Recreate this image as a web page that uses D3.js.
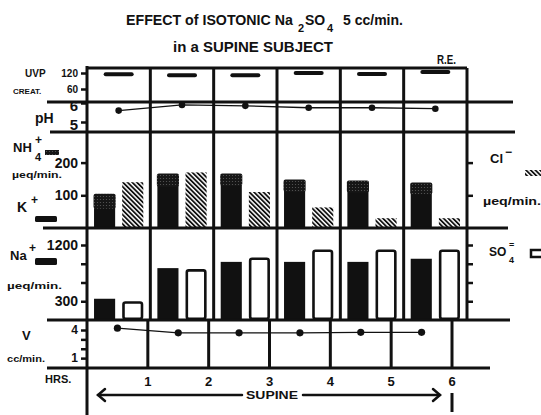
<!DOCTYPE html>
<html><head><meta charset="utf-8">
<script src="https://cdn.jsdelivr.net/npm/d3@7"></script>
<style>
body{margin:0;background:#fff}
text{font-family:"Liberation Sans",Arial,sans-serif;font-weight:bold;fill:#111}
</style>
</head><body><svg id="c" width="541" height="415"></svg>
<script>
// ---------- data ----------
const periods   = [1, 2, 3, 4, 5, 6];
const hourTicks = [1, 2, 3, 4, 5, 6];
const uvpCreat  = [115, 112, 112, 120, 116, 124];
const pH        = [5.6, 5.9, 5.85, 5.75, 5.75, 5.7];
const nh4       = [40, 35, 32, 32, 30, 30];
const kPlus     = [65, 132, 135, 116, 115, 109];
const chloride  = [140, 170, 110, 63, 30, 30];
const sodium    = [340, 830, 930, 930, 930, 980];
const sulfate   = [300, 815, 1000, 1130, 1130, 1130];
const volume    = [4.2, 3.7, 3.7, 3.7, 3.75, 3.75];
const uvpTicks  = [120, 60];
const pHTicks   = [6, 5];
const ionTicks  = [200, 100];
const naTicks   = [1200, 900, 600, 300];
const naLabels  = [1200, 300];
const vTicks    = [4, 3, 2, 1];
const vLabels   = [4, 1];

// ---------- layout ----------
const svg = d3.select('#c');
const X0 = 87, XR = 467, XH6 = 452;
const xP = d3.scaleBand().domain(periods).range([X0, XR]);
const xSub = d3.scaleBand().domain(['L', 'R']).range([0, xP.bandwidth()]).paddingInner(0.25).paddingOuter(0.25);
const xH = d3.scaleLinear().domain([0, 6]).range([X0, XH6]);
const yU  = d3.scaleLinear().domain([60, 120]).range([89, 73]);
const yPH = d3.scaleLinear().domain([5, 6]).range([122, 103]);
const yI  = d3.scaleLinear().domain([0, 200]).range([228, 162.6]);
const yN  = d3.scaleLinear().domain([0, 1200]).range([320, 245]);
const yV  = d3.scaleLinear().domain([0, 4]).range([367.5, 330]);
const INK = '#111';

const defs = svg.append('defs');
const hatch = defs.append('pattern').attr('id', 'hatch').attr('patternUnits', 'userSpaceOnUse')
  .attr('width', 3.3).attr('height', 3.3).attr('patternTransform', 'rotate(-45)');
hatch.append('rect').attr('width', 3.3).attr('height', 3.3).attr('fill', '#fff');
hatch.append('line').attr('x1', 0.9).attr('y1', 0).attr('x2', 0.9).attr('y2', 3.3).attr('stroke', INK).attr('stroke-width', 1.8);
const stip = defs.append('pattern').attr('id', 'stip').attr('patternUnits', 'userSpaceOnUse').attr('width', 3).attr('height', 3);
stip.append('rect').attr('width', 3).attr('height', 3).attr('fill', '#161616');
stip.append('circle').attr('cx', 1.5).attr('cy', 1.5).attr('r', 0.6).attr('fill', '#5a5a5a');

const cx = p => xP(p) + xP.bandwidth() / 2;

// ---------- bars: middle panel ----------
const gBars = svg.append('g');
gBars.selectAll('.k').data(periods).join('rect')
  .attr('x', (p, i) => xP(p) + xSub('L')).attr('width', xSub.bandwidth())
  .attr('y', (p, i) => yI(kPlus[i])).attr('height', (p, i) => yI(0) - yI(kPlus[i])).attr('fill', INK);
gBars.selectAll('.nh').data(periods).join('rect')
  .attr('x', (p, i) => xP(p) + xSub('L') - 0.5).attr('width', xSub.bandwidth() + 1)
  .attr('y', (p, i) => yI(kPlus[i] + nh4[i])).attr('height', (p, i) => yI(kPlus[i]) - yI(kPlus[i] + nh4[i]) + 2)
  .attr('rx', 2).attr('fill', 'url(#stip)');
gBars.selectAll('.cl').data(periods).join('rect')
  .attr('x', (p, i) => xP(p) + xSub('R')).attr('width', xSub.bandwidth())
  .attr('y', (p, i) => yI(chloride[i])).attr('height', (p, i) => yI(0) - yI(chloride[i])).attr('fill', 'url(#hatch)');

// ---------- bars: Na / SO4 panel ----------
gBars.selectAll('.na').data(periods).join('rect')
  .attr('x', (p, i) => xP(p) + xSub('L')).attr('width', xSub.bandwidth())
  .attr('y', (p, i) => yN(sodium[i])).attr('height', (p, i) => yN(0) - yN(sodium[i])).attr('fill', INK);
gBars.selectAll('.so').data(periods).join('rect')
  .attr('x', (p, i) => xP(p) + xSub('R') + 1.3).attr('width', xSub.bandwidth() - 2.6)
  .attr('y', (p, i) => yN(sulfate[i]) + 1.3).attr('height', (p, i) => yN(0) - yN(sulfate[i]) - 2.5)
  .attr('rx', 2).attr('fill', '#fff').attr('stroke', INK).attr('stroke-width', 2.6);

// ---------- UVP/creat dashes ----------
svg.append('g').selectAll('line').data(periods).join('line')
  .attr('x1', p => cx(p) - 13).attr('x2', p => cx(p) + 13)
  .attr('y1', (p, i) => yU(uvpCreat[i])).attr('y2', (p, i) => yU(uvpCreat[i]))
  .attr('stroke', INK).attr('stroke-width', 4).attr('stroke-linecap', 'round');

// ---------- frame lines ----------
const gL = svg.append('g').attr('stroke', INK).attr('stroke-width', 3).attr('fill', 'none');
const hl = (x1, x2, y) => gL.append('line').attr('x1', x1).attr('x2', x2).attr('y1', y).attr('y2', y);
const vl = (x, y1, y2) => gL.append('line').attr('x1', x).attr('x2', x).attr('y1', y1).attr('y2', y2);
hl(X0, XR, 68);
hl(47, 513, 102);
hl(50, 515, 132);
hl(43, 508, 228);
hl(47, 510, 320);
hl(47, 490, 368);
vl(X0, 66, 415);
periods.slice(1).forEach(p => vl(xP(p), 68, 320));
vl(XR, 68, 320);
hourTicks.forEach(h => vl(xH(h), 320, 368));
vl(xH(6), 393, 412);

// ---------- axes ----------
function leftAxis(scale, ticks, labelled, fs) {
  const g = svg.append('g').attr('transform', `translate(${X0},0)`)
    .call(d3.axisLeft(scale).tickValues(ticks).tickSize(6).tickPadding(3)
      .tickFormat(d => labelled.includes(d) ? d : ''));
  g.select('.domain').remove();
  g.selectAll('.tick line').attr('stroke', INK).attr('stroke-width', 2.5);
  g.selectAll('.tick text').attr('font-size', fs).attr('fill', INK);
  return g;
}
function rightAxis(scale, ticks) {
  const g = svg.append('g').attr('transform', `translate(${XR},0)`)
    .call(d3.axisRight(scale).tickValues(ticks).tickSize(6).tickFormat(''));
  g.select('.domain').remove();
  g.selectAll('.tick line').attr('stroke', INK).attr('stroke-width', 2.5);
}
leftAxis(yU, uvpTicks, uvpTicks, 10);
leftAxis(yPH, pHTicks, pHTicks, 15).selectAll('.tick text').attr('dy', '0.5em');
leftAxis(yI, ionTicks, ionTicks, 14);
leftAxis(yN, naTicks, naLabels, 14);
leftAxis(yV, vTicks, vLabels, 12);
rightAxis(yI, ionTicks);
rightAxis(yN, naTicks);

// hours axis labels
svg.append('g').selectAll('text').data(hourTicks).join('text')
  .attr('x', h => xH(h)).attr('y', 386).attr('text-anchor', 'middle').attr('font-size', 13).text(d => d);

// ---------- line + points ----------
svg.append('path').datum(periods)
  .attr('d', d3.line().x(p => cx(p)).y((p, i) => yPH(pH[i])))
  .attr('fill', 'none').attr('stroke', INK).attr('stroke-width', 1.3);
svg.append('g').selectAll('circle').data(periods).join('circle')
  .attr('cx', p => cx(p)).attr('cy', (p, i) => yPH(pH[i])).attr('r', 3.3).attr('fill', INK);
svg.append('path').datum(periods)
  .attr('d', d3.line().x(p => xH(p - 0.5)).y((p, i) => yV(volume[i])))
  .attr('fill', 'none').attr('stroke', INK).attr('stroke-width', 1.3);
svg.append('g').selectAll('circle').data(periods).join('circle')
  .attr('cx', p => xH(p - 0.5)).attr('cy', (p, i) => yV(volume[i])).attr('r', 3.6).attr('fill', INK);

// ---------- texts ----------
function t(x, y, s, fs, opts = {}) {
  const e = svg.append('text').attr('x', x).attr('y', y).attr('font-size', fs).text(s);
  if (opts.anchor) e.attr('text-anchor', opts.anchor);
  if (opts.len) e.attr('textLength', opts.len).attr('lengthAdjust', 'spacingAndGlyphs');
  return e;
}
// title
t(126, 25, 'EFFECT of ISOTONIC Na', 14.2);
t(298, 32, '2', 11);
t(305, 25, 'SO', 14);
t(327, 32, '4', 11);
t(343, 25, '5 cc/min.', 14);
t(173, 52, 'in a SUPINE SUBJECT', 15, {len: 160});
t(437, 64, 'R.E.', 12, {len: 19});

// left labels
t(25, 77, 'UVP', 10);
t(13, 94, 'CREAT.', 8);
t(35, 123, 'pH', 14);
t(13, 152, 'NH', 13);
t(35, 144, '+', 12);
t(35, 161, '4', 11);
svg.append('rect').attr('x', 45).attr('y', 150).attr('width', 14).attr('height', 5).attr('fill', 'url(#stip)');
t(12, 178, 'µeq/min.', 9.5, {len: 50});
t(17, 212, 'K', 14);
t(31, 204, '+', 12);
svg.append('rect').attr('x', 35).attr('y', 216).attr('width', 22).attr('height', 6).attr('rx', 1.5).attr('fill', INK);
t(10, 260, 'Na', 13);
t(29, 252, '+', 12);
svg.append('rect').attr('x', 35).attr('y', 258).attr('width', 22).attr('height', 7).attr('rx', 1.5).attr('fill', INK);
t(7, 289, 'µeq/min.', 9.5, {len: 55});
t(22, 340, 'V', 13);
t(7, 362, 'cc/min.', 9.5, {len: 38});
t(45, 383, 'HRS.', 11);

// right labels
t(490, 163, 'Cl', 13);
t(505, 156, '−', 12);
svg.append('rect').attr('x', 525).attr('y', 170).attr('width', 18).attr('height', 6).attr('fill', 'url(#hatch)');
t(483, 205, 'µeq/min.', 10, {len: 58});
t(489, 256, 'SO', 12);
t(509, 263, '4', 9);
t(509, 248, '=', 9);
svg.append('rect').attr('x', 531).attr('y', 250).attr('width', 14).attr('height', 7).attr('fill', '#fff').attr('stroke', INK).attr('stroke-width', 2.5);

// supine arrow
const gA = svg.append('g').attr('stroke', INK).attr('stroke-width', 2.5).attr('fill', 'none').attr('stroke-linecap', 'round');
gA.append('line').attr('x1', 98).attr('x2', 242).attr('y1', 395).attr('y2', 395);
gA.append('polyline').attr('points', '105,389 98,395 105,401');
gA.append('line').attr('x1', 303).attr('x2', 440).attr('y1', 395).attr('y2', 395);
gA.append('polyline').attr('points', '433,389 440,395 433,401');
t(272, 399, 'SUPINE', 11, {anchor: 'middle', len: 52});
</script>
</body></html>
